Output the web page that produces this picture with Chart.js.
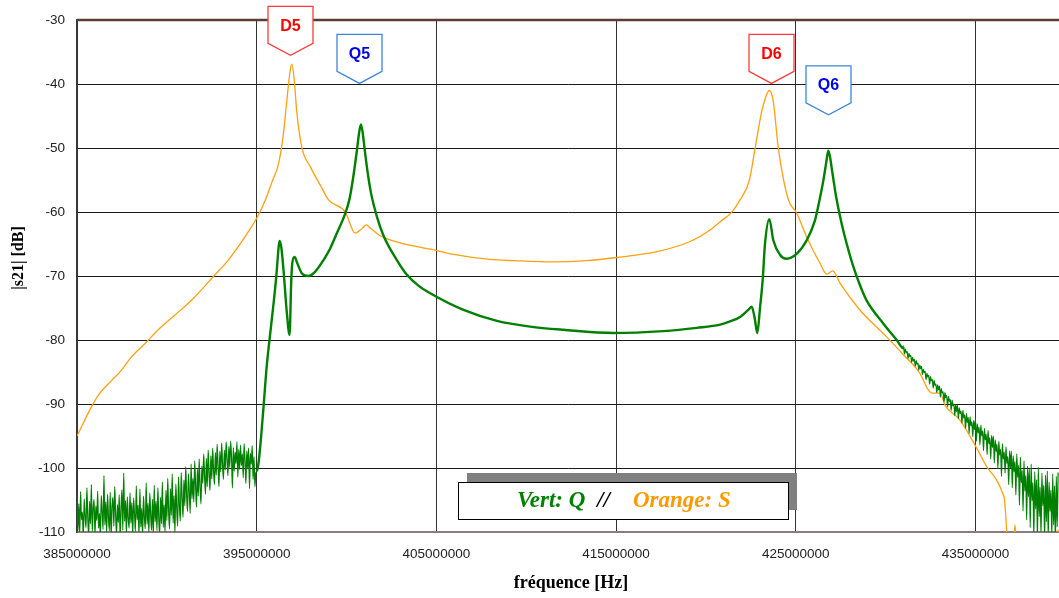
<!DOCTYPE html>
<html>
<head>
<meta charset="utf-8">
<script src="https://cdn.jsdelivr.net/npm/chart.js@4/dist/chart.umd.min.js"></script>
<style>
  html, body { margin: 0; padding: 0; background: #ffffff; }
  #wrap { width: 1059px; height: 598px; }
</style>
</head>
<body>
<div id="wrap"><canvas id="c" width="1059" height="598"></canvas></div>
<script>
// Frequency ticks (MHz) and level ticks (dB)
const freqTicksMHz = [385, 395, 405, 415, 425, 435];
const levelTicks = [-30, -40, -50, -60, -70, -80, -90, -100, -110];

// S trace (orange): frequency in MHz, |s21| in dB
const sFreq = [385.0, 385.81, 386.19, 386.93, 387.48, 387.95, 388.87, 389.52, 390.45, 391.47,
  392.58, 393.42, 394.53, 395.09, 395.48, 395.85, 396.22, 396.49, 396.68, 396.87,
  396.96, 397.09, 397.24, 397.52, 397.98, 398.54, 399.0, 399.93, 400.48, 400.85,
  401.1, 401.32, 401.87, 402.98, 404.66, 405.95, 407.99, 409.29, 411.51, 413.37,
  415.04, 417.27, 419.12, 420.23, 420.8, 421.44, 421.9, 422.42, 422.74, 423.13,
  423.53, 423.74, 424.03, 424.59, 425.02, 425.69, 426.35, 426.72, 427.06, 427.46,
  428.57, 430.06, 430.99, 431.91, 432.38, 432.57, 433.03, 433.31, 434.14, 435.07,
  435.63, 436.18, 436.52, 436.62, 436.74, 436.85, 437.1, 437.2, 437.3, 437.5,
  439.3, 439.6];
const sLevel = [-95.0, -90.4, -88.6, -86.3, -84.7, -82.9, -80.3, -78.4, -76.1, -73.5,
  -70.1, -67.5, -63.1, -60.5, -58.1, -55.3, -52.4, -47.7, -42.5, -37.8,
  -36.9, -39.4, -44.6, -50.0, -52.9, -55.8, -58.1, -60.0, -63.3, -62.6,
  -62.0, -62.5, -63.7, -64.8, -65.8, -66.6, -67.4, -67.6, -67.8, -67.6,
  -67.1, -66.2, -64.6, -62.8, -61.5, -60.0, -58.1, -55.0, -50.0, -44.0,
  -41.0, -42.5, -50.0, -58.1, -60.0, -64.4, -68.0, -69.7, -69.2, -71.1,
  -75.3, -79.5, -82.3, -85.2, -87.8, -88.3, -88.3, -90.2, -92.5, -96.9,
  -99.8, -101.9, -104.0, -105.0, -110.0, -116.0, -113.0, -108.9, -113.0, -118.0,
  -118.0, -109.6];

// Q trace (green), lower noise floor: sweep from 385.0 MHz in 0.05 MHz steps
const qStepMHz = 0.05;
const qLowStartMHz = 385.0;
const qLowLevel = [
  -104.2, -109.8, -105.6, -110.4, -103.7, -108.1, -106.9, -110.9, -104.8, -107.5,
  -109.3, -103.1, -107.8, -110.6, -105.2, -108.7, -102.6, -109.9, -106.4, -104.9,
  -110.5, -105.9, -108.2, -103.6, -109.4, -107.1, -110.8, -104.3, -106.8, -109.6,
  -101.2, -108.9, -105.3, -110.2, -104.1, -107.6, -109.8, -103.8, -110.7, -106.1,
  -104.6, -109.1, -102.9, -107.3, -110.4, -105.7, -108.5, -104.2, -110.9, -106.5,
  -103.4, -109.7, -100.8, -108.3, -105.1, -110.3, -104.5, -107.9, -109.4, -103.9,
  -108.6, -105.4, -110.6, -104.7, -107.2, -109.9, -102.8, -108.1, -105.8, -110.5,
  -103.3, -109.2, -106.3, -110.7, -104.4, -107.7, -109.5, -102.3, -108.8, -105.5,
  -110.2, -103.9, -107.4, -109.7, -104.9, -110.6, -102.7, -108.4, -105.2, -109.8,
  -103.1, -107.9, -110.4, -104.6, -108.7, -102.2, -109.3, -105.7, -110.1, -103.5,
  -108.2, -101.6, -106.9, -109.5, -103.2, -107.4, -100.9, -108.6, -104.3, -110.2,
  -102.5, -106.3, -109.1, -101.4, -105.8, -108.3, -100.7, -104.6, -107.7, -101.9,
  -105.9, -99.8, -104.2, -106.8, -100.9, -103.7, -107.1, -99.4, -104.8, -101.6,
  -105.3, -98.9, -102.8, -106.1, -100.2, -104.4, -98.6, -103.1, -105.6, -99.7,
  -102.4, -97.8, -101.3, -104.1, -98.5, -102.9, -97.2, -100.8, -103.5, -98.1,
  -101.7, -96.9, -100.4, -102.6, -97.6, -101.1, -96.3, -99.8, -102.9, -97.4,
  -100.6, -96.1, -99.5, -101.8, -97.2, -100.3, -95.9, -98.7, -101.2, -96.6,
  -99.9, -95.8, -98.4, -103.1, -96.8, -100.5, -97.5, -99.3, -95.9, -101.4,
  -97.1, -100.2, -96.4, -99.6, -97.8, -101.5, -96.2, -98.9, -102.4, -97.3,
  -100.1, -96.9, -103.2, -97.7, -99.4, -96.5, -101.8, -98.2, -102.9, -100.8];

// Q trace (green), resonance region
const qMidFreq = [395.0, 395.09, 395.25, 395.42, 395.53, 395.66, 395.9, 396.09, 396.22, 396.27,
  396.37, 396.49, 396.68, 396.83, 396.92, 396.98, 397.11, 397.26, 397.52, 397.88,
  398.26, 398.72, 399.09, 399.46, 399.93, 400.17, 400.37, 400.58, 400.7, 400.8,
  400.9, 401.0, 401.18, 401.36, 401.69, 402.06, 402.8, 403.36, 404.0, 404.66,
  406.51, 408.37, 410.22, 412.07, 414.85, 417.63, 419.49, 420.79, 421.34, 421.9,
  422.35, 422.55, 422.71, 422.86, 423.01, 423.16, 423.29, 423.53, 423.75, 424.13,
  424.5, 425.06, 425.61, 426.07, 426.31, 426.54, 426.7, 426.81, 426.92, 427.02,
  427.24, 427.45, 427.7, 428.2, 428.57, 428.94, 429.87, 430.62, 430.99];
const qMidLevel = [-100.5, -99.5, -95.0, -89.0, -85.0, -81.3, -75.3, -70.1, -65.5, -64.5,
  -65.5, -69.0, -75.8, -79.2, -71.0, -68.0, -67.0, -68.0, -69.6, -70.0,
  -69.3, -67.5, -65.7, -63.3, -60.2, -57.9, -54.6, -50.3, -47.6, -46.3,
  -47.6, -50.0, -53.9, -57.0, -60.7, -63.7, -67.5, -69.8, -71.5, -72.7,
  -75.3, -77.0, -77.9, -78.4, -78.9, -78.6, -78.1, -77.6, -77.1, -76.4,
  -75.3, -74.8, -76.5, -78.9, -75.0, -70.6, -64.9, -61.1, -64.4, -66.7,
  -67.3, -66.5, -64.4, -61.3, -58.3, -55.0, -52.2, -50.4, -51.6, -53.5,
  -57.5, -60.5, -63.5, -68.5, -71.4, -73.8, -77.4, -80.0, -81.3];

// Q trace (green), upper skirt into the noise floor: from 431.0 MHz in 0.05 MHz steps
const qHighStartMHz = 431.0;
const qHighLevel = [
  -81.0, -82.2, -81.4, -82.0, -81.8, -82.9, -82.1, -82.6, -82.4, -83.5,
  -82.7, -83.3, -83.0, -84.1, -83.2, -83.8, -83.6, -84.7, -83.9, -84.5,
  -84.1, -85.4, -84.6, -85.1, -84.9, -86.2, -85.2, -85.8, -85.5, -86.9,
  -85.7, -86.4, -86.2, -87.5, -86.3, -87.1, -86.9, -88.2, -87.0, -87.8,
  -87.2, -88.9, -87.6, -88.3, -88.1, -89.7, -88.2, -89.0, -88.7, -90.4,
  -88.8, -89.6, -89.3, -91.0, -89.4, -90.3, -90.0, -91.8, -90.1, -91.2,
  -90.2, -92.3, -90.6, -91.5, -91.1, -93.0, -91.0, -92.2, -91.7, -93.8,
  -91.5, -92.9, -92.1, -94.6, -92.0, -93.4, -92.8, -95.1, -92.6, -94.0,
  -92.4, -95.8, -93.1, -94.5, -93.6, -96.4, -93.3, -95.0, -94.2, -97.3,
  -93.8, -95.6, -94.7, -97.9, -94.1, -96.2, -95.3, -98.6, -94.9, -96.8,
  -95.0, -99.2, -95.6, -97.4, -96.3, -100.1, -95.8, -98.0, -97.1, -101.3,
  -96.2, -98.6, -97.5, -100.8, -96.7, -99.3, -98.2, -102.6, -97.3, -100.0,
  -97.4, -103.1, -98.1, -100.6, -99.0, -104.2, -97.8, -101.5, -99.6, -105.8,
  -98.3, -102.3, -100.4, -106.7, -98.9, -103.6, -101.2, -108.1, -99.7, -104.5,
  -100.2, -109.3, -99.4, -105.1, -102.3, -110.8, -100.6, -106.4, -101.8, -111.2,
  -99.9, -107.6, -103.0, -110.5, -100.8, -105.9, -102.7, -111.3, -101.1, -108.4,
  -100.5, -111.0, -102.2, -106.8, -103.5, -110.6, -100.9, -108.9, -102.8, -111.4,
  -101.3, -109.2, -100.7];

// Peak markers: label, frequency (MHz) and level (dB) of the arrow tip
const markerText = ['D5', 'Q5', 'D6', 'Q6'];
const markerFreq = [396.83, 400.67, 423.61, 426.78];
const markerTip = [-35.5, -39.9, -39.9, -44.8];

const MHZ = 1e6;

const sPoints = sFreq.map((f, i) => ({ x: f * MHZ, y: sLevel[i] }));
const qPoints = [
  ...qLowLevel.map((v, i) => ({ x: (qLowStartMHz + i * qStepMHz) * MHZ, y: v })),
  ...qMidFreq.map((f, i) => ({ x: f * MHZ, y: qMidLevel[i] })),
  ...qHighLevel.map((v, i) => ({ x: (qHighStartMHz + i * qStepMHz) * MHZ, y: v }))
];

const markerStyle = {
  D: { text: '#ff0000', edge: '#ff3b3b' },
  Q: { text: '#0000ee', edge: '#3f86d8' }
};

const decorations = {
  id: 'decorations',
  afterDatasetsDraw(chart) {
    const { ctx, chartArea: a, scales: { x, y } } = chart;
    ctx.save();

    // frame: top edge
    ctx.strokeStyle = '#5b3d33';
    ctx.lineWidth = 2.5;
    ctx.beginPath();
    ctx.moveTo(a.left, a.top);
    ctx.lineTo(a.right, a.top);
    ctx.stroke();

    // peak markers
    markerText.forEach((t, i) => {
      const st = markerStyle[t[0]];
      const px = Math.round(x.getPixelForValue(markerFreq[i] * MHZ)) + 0.5;
      const py = y.getPixelForValue(markerTip[i]);
      const w = 45, h = 37, pt = 12;
      const l = px - w / 2, r = px + w / 2, top = py - pt - h, bot = py - pt;
      ctx.beginPath();
      ctx.moveTo(l, top);
      ctx.lineTo(r, top);
      ctx.lineTo(r, bot);
      ctx.lineTo(px, py);
      ctx.lineTo(l, bot);
      ctx.closePath();
      ctx.fillStyle = '#ffffff';
      ctx.fill();
      ctx.strokeStyle = st.edge;
      ctx.lineWidth = 1.3;
      ctx.stroke();
      ctx.fillStyle = st.text;
      ctx.font = 'bold 16px "Liberation Sans", Arial, sans-serif';
      ctx.textAlign = 'center';
      ctx.textBaseline = 'middle';
      ctx.fillText(t, px, top + 20);
    });

    // colour key box with drop shadow
    const kx = 458, ky = 482, kw = 330, kh = 37;
    ctx.fillStyle = '#808080';
    ctx.fillRect(kx + 9, ky - 9, kw, kh);
    ctx.fillStyle = '#ffffff';
    ctx.fillRect(kx, ky, kw, kh);
    ctx.strokeStyle = '#000000';
    ctx.lineWidth = 1;
    ctx.strokeRect(kx + 0.5, ky + 0.5, kw, kh);

    ctx.font = 'bold italic 23px "Liberation Serif", "Times New Roman", serif';
    ctx.textBaseline = 'alphabetic';
    ctx.textAlign = 'left';
    ctx.fillStyle = '#008000';
    ctx.fillText('Vert: Q', kx + 59, ky + 25);
    ctx.fillStyle = '#000000';
    ctx.fillText('//', kx + 139, ky + 25);
    ctx.fillStyle = '#ff9900';
    ctx.fillText('Orange: S', kx + 175, ky + 25);

    // axis titles
    ctx.fillStyle = '#000000';
    ctx.font = 'bold 18px "Liberation Serif", "Times New Roman", serif';
    ctx.textAlign = 'center';
    ctx.fillText('fréquence [Hz]', 571, 588);

    ctx.translate(23, 258);
    ctx.rotate(-Math.PI / 2);
    ctx.font = 'bold 16px "Liberation Serif", "Times New Roman", serif';
    ctx.fillText('|s21| [dB]', 0, 0);
    ctx.restore();
  }
};

const tickFont = { family: '"Liberation Sans", Arial, sans-serif', size: 13.5 };

new Chart(document.getElementById('c'), {
  type: 'line',
  data: {
    datasets: [
      {
        label: 'Q',
        data: qPoints,
        borderColor: '#008000',
        borderWidth: 2.4,
        pointRadius: 0,
        cubicInterpolationMode: 'monotone',
        segment: {
          borderWidth: c => (c.p0.parsed.x < 395e6 || c.p1.parsed.x > 431e6) ? 1.2 : 2.4
        }
      },
      {
        label: 'S',
        data: sPoints,
        borderColor: '#ffa010',
        borderWidth: 1.3,
        pointRadius: 0,
        cubicInterpolationMode: 'monotone'
      }
    ]
  },
  options: {
    responsive: false,
    animation: false,
    devicePixelRatio: 1,
    layout: { padding: { top: 20, right: 0, left: 0, bottom: 0 } },
    plugins: { legend: { display: false }, tooltip: { enabled: false }, title: { display: false } },
    scales: {
      x: {
        type: 'linear',
        min: freqTicksMHz[0] * MHZ,
        max: 439.65 * MHZ,
        afterBuildTicks: s => { s.ticks = freqTicksMHz.map(f => ({ value: f * MHZ })); },
        afterFit: s => { s.height = 66; },
        ticks: {
          callback: v => String(Math.round(v)),
          font: tickFont,
          color: '#222222',
          padding: 14,
          maxRotation: 0,
          autoSkip: false
        },
        grid: { color: '#333333', lineWidth: 1, drawTicks: false },
        border: { color: '#8c7b7a', width: 2 }
      },
      y: {
        min: -110,
        max: -30,
        afterBuildTicks: s => { s.ticks = levelTicks.map(v => ({ value: v })); },
        afterFit: s => { s.width = 77; },
        ticks: {
          font: tickFont,
          color: '#222222',
          padding: 12
        },
        grid: { color: '#1a1a1a', lineWidth: 1, drawTicks: false },
        border: { color: '#3a3a3a', width: 1.5 }
      }
    }
  },
  plugins: [decorations]
});
</script>
</body>
</html>
